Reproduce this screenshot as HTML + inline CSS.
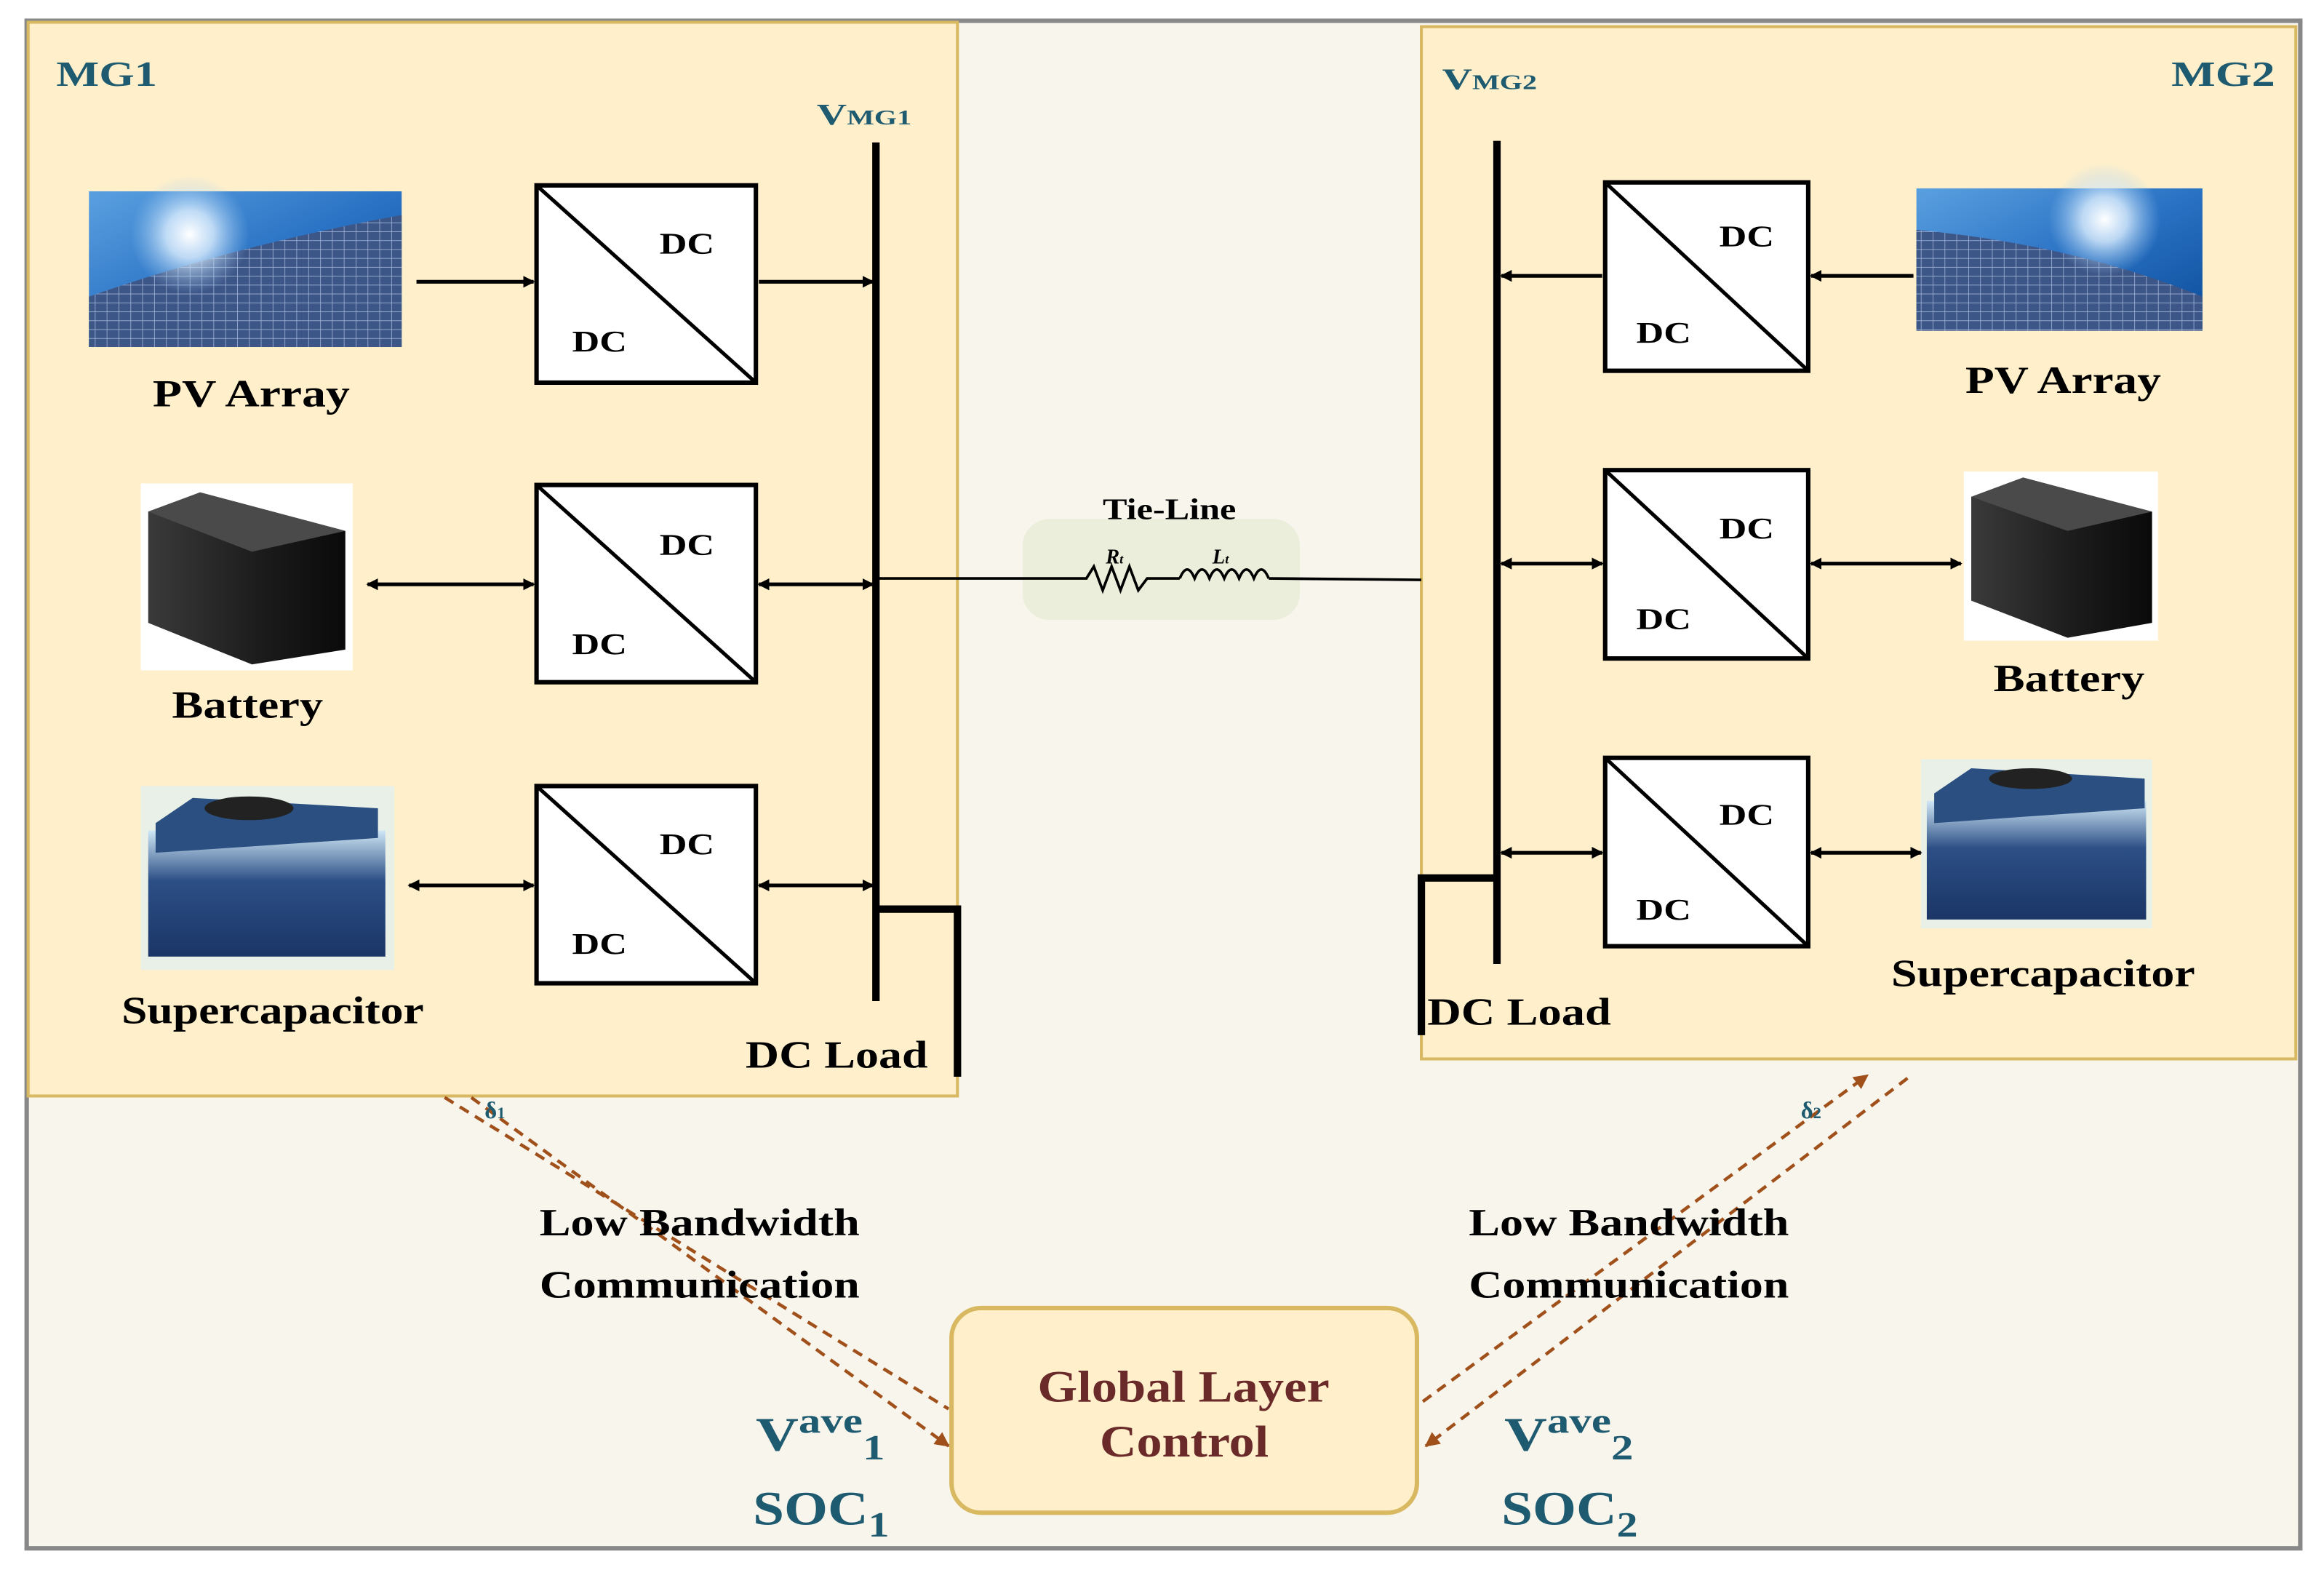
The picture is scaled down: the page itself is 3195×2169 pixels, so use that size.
<!DOCTYPE html>
<html><head><meta charset="utf-8"><style>
html,body{margin:0;padding:0;background:#fff}
svg{display:block}
text{font-family:"Liberation Serif",serif;font-weight:bold}
</style></head><body>
<svg width="3195" height="2169" viewBox="0 0 1568 1064" preserveAspectRatio="none" xmlns="http://www.w3.org/2000/svg">
<defs>
<linearGradient id="sky" x1="0" y1="0" x2="1" y2="1"><stop offset="0" stop-color="#5aa0e0"/><stop offset="0.5" stop-color="#2a72c4"/><stop offset="1" stop-color="#0b4c9a"/></linearGradient>
<radialGradient id="sun" cx="0.5" cy="0.5" r="0.5"><stop offset="0" stop-color="#fff"/><stop offset="0.4" stop-color="#dff0ff" stop-opacity="0.8"/><stop offset="1" stop-color="#9cc8f0" stop-opacity="0"/></radialGradient>
<pattern id="grid" width="8" height="6" patternUnits="userSpaceOnUse"><rect width="8" height="6" fill="#3d5688"/><path d="M0 0H8M0 0V6" stroke="#9fb3d6" stroke-width="0.8"/></pattern>
<linearGradient id="batt" x1="0" y1="0" x2="1" y2="0"><stop offset="0" stop-color="#3a3a3a"/><stop offset="0.6" stop-color="#1a1a1a"/><stop offset="1" stop-color="#0a0a0a"/></linearGradient>
<linearGradient id="cap" x1="0" y1="0" x2="0" y2="1"><stop offset="0" stop-color="#cfe6f5"/><stop offset="0.4" stop-color="#2c4f86"/><stop offset="1" stop-color="#1b3566"/></linearGradient>
<marker id="ah" markerWidth="8" markerHeight="8" refX="7" refY="4" orient="auto" markerUnits="userSpaceOnUse"><path d="M0 0L8 4L0 8Z" fill="#000"/></marker>
<marker id="ahs" markerWidth="8" markerHeight="8" refX="1" refY="4" orient="auto" markerUnits="userSpaceOnUse"><path d="M8 0L0 4L8 8Z" fill="#000"/></marker>
<marker id="ob" markerWidth="10" markerHeight="10" refX="9" refY="5" orient="auto" markerUnits="userSpaceOnUse"><path d="M0 0L10 5L0 10Z" fill="#a0501a"/></marker>
</defs>
<rect width="1568" height="1064" fill="#fff"/>
<rect x="18" y="14" width="1534" height="1030" fill="#f8f5ec" stroke="#888" stroke-width="3"/>
<!-- MG1 -->
<rect x="19" y="15" width="627" height="724" fill="#fff0cb" stroke="#d8b860" stroke-width="2"/>
<text x="38" y="58" font-size="24" fill="#1e5a70" textLength="68" lengthAdjust="spacingAndGlyphs">MG1</text>
<text x="551" y="84" font-size="20" fill="#1e5a70" textLength="64" lengthAdjust="spacingAndGlyphs">V<tspan font-size="14">MG1</tspan></text>
<line x1="591" y1="96" x2="591" y2="675" stroke="#000" stroke-width="5"/>
<polyline points="591,613 646,613 646,726" fill="none" stroke="#000" stroke-width="5"/>
<text x="503" y="720" font-size="26" fill="#000" textLength="123" lengthAdjust="spacingAndGlyphs">DC Load</text>
<!-- MG1 PV -->
<rect x="60" y="129" width="211" height="105" fill="url(#sky)"/>
<path d="M60 234 L60 200 Q160 165 271 145 L271 234Z" fill="url(#grid)"/>
<circle cx="128" cy="158" r="40" fill="url(#sun)"/>
<text x="103" y="274" font-size="26" textLength="133" lengthAdjust="spacingAndGlyphs">PV Array</text>
<!-- MG1 battery -->
<rect x="95" y="326" width="143" height="126" fill="#fff"/>
<path d="M100 345 L135 332 L233 358 L233 438 L170 448 L100 420Z" fill="url(#batt)"/>
<path d="M100 345 L135 332 L233 358 L170 372Z" fill="#4a4a4a"/>
<text x="116" y="484" font-size="26" textLength="102" lengthAdjust="spacingAndGlyphs">Battery</text>
<!-- MG1 supercap -->
<rect x="95" y="530" width="171" height="124" fill="#e8f0e8"/>
<rect x="100" y="560" width="160" height="85" fill="url(#cap)"/>
<path d="M105 555 L130 538 L255 545 L255 565 L105 575Z" fill="#2a4f80"/>
<ellipse cx="168" cy="545" rx="30" ry="8" fill="#222"/>
<text x="82" y="690" font-size="26" textLength="204" lengthAdjust="spacingAndGlyphs">Supercapacitor</text>
<!-- MG1 converters -->
<g stroke="#000" fill="#fff">
<rect x="362" y="125" width="148" height="133" stroke-width="3"/><line x1="362" y1="125" x2="510" y2="258" stroke-width="2.5"/>
<rect x="362" y="327" width="148" height="133" stroke-width="3"/><line x1="362" y1="327" x2="510" y2="460" stroke-width="2.5"/>
<rect x="362" y="530" width="148" height="133" stroke-width="3"/><line x1="362" y1="530" x2="510" y2="663" stroke-width="2.5"/>
</g>
<g font-size="20" fill="#000">
<text x="445" y="171" textLength="37" lengthAdjust="spacingAndGlyphs">DC</text><text x="386" y="237" textLength="37" lengthAdjust="spacingAndGlyphs">DC</text>
<text x="445" y="374" textLength="37" lengthAdjust="spacingAndGlyphs">DC</text><text x="386" y="441" textLength="37" lengthAdjust="spacingAndGlyphs">DC</text>
<text x="445" y="576" textLength="37" lengthAdjust="spacingAndGlyphs">DC</text><text x="386" y="643" textLength="37" lengthAdjust="spacingAndGlyphs">DC</text>
</g>
<g stroke="#000" stroke-width="2.5" fill="none">
<line x1="281" y1="190" x2="360" y2="190" marker-end="url(#ah)"/>
<line x1="512" y1="190" x2="589" y2="190" marker-end="url(#ah)"/>
<line x1="248" y1="394" x2="360" y2="394" marker-start="url(#ahs)" marker-end="url(#ah)"/>
<line x1="512" y1="394" x2="589" y2="394" marker-start="url(#ahs)" marker-end="url(#ah)"/>
<line x1="276" y1="597" x2="360" y2="597" marker-start="url(#ahs)" marker-end="url(#ah)"/>
<line x1="512" y1="597" x2="589" y2="597" marker-start="url(#ahs)" marker-end="url(#ah)"/>
</g>
<!-- MG2 -->
<rect x="959" y="18" width="590" height="696" fill="#fff0cb" stroke="#d8b860" stroke-width="2"/>
<text x="1465" y="58" font-size="24" fill="#1e5a70" textLength="70" lengthAdjust="spacingAndGlyphs">MG2</text>
<text x="973" y="60" font-size="20" fill="#1e5a70" textLength="64" lengthAdjust="spacingAndGlyphs">V<tspan font-size="14">MG2</tspan></text>
<line x1="1010" y1="95" x2="1010" y2="650" stroke="#000" stroke-width="5"/>
<polyline points="1010,592 959,592 959,698" fill="none" stroke="#000" stroke-width="5"/>
<text x="963" y="691" font-size="26" fill="#000" textLength="124" lengthAdjust="spacingAndGlyphs">DC Load</text>
<rect x="1293" y="127" width="193" height="96" fill="url(#sky)"/>
<path d="M1293 223 L1293 155 Q1400 165 1486 200 L1486 223Z" fill="url(#grid)"/>
<circle cx="1420" cy="148" r="38" fill="url(#sun)"/>
<text x="1326" y="265" font-size="26" textLength="132" lengthAdjust="spacingAndGlyphs">PV Array</text>
<rect x="1325" y="318" width="131" height="114" fill="#fff"/>
<path d="M1330 335 L1365 322 L1452 345 L1452 420 L1395 430 L1330 405Z" fill="url(#batt)"/>
<path d="M1330 335 L1365 322 L1452 345 L1395 358Z" fill="#4a4a4a"/>
<text x="1345" y="466" font-size="26" textLength="102" lengthAdjust="spacingAndGlyphs">Battery</text>
<rect x="1296" y="512" width="156" height="114" fill="#e8f0e8"/>
<rect x="1300" y="540" width="148" height="80" fill="url(#cap)"/>
<path d="M1305 535 L1330 518 L1447 525 L1447 545 L1305 555Z" fill="#2a4f80"/>
<ellipse cx="1370" cy="525" rx="28" ry="7" fill="#222"/>
<text x="1276" y="665" font-size="26" textLength="205" lengthAdjust="spacingAndGlyphs">Supercapacitor</text>
<g stroke="#000" fill="#fff">
<rect x="1083" y="123" width="137" height="127" stroke-width="3"/><line x1="1083" y1="123" x2="1220" y2="250" stroke-width="2.5"/>
<rect x="1083" y="317" width="137" height="127" stroke-width="3"/><line x1="1083" y1="317" x2="1220" y2="444" stroke-width="2.5"/>
<rect x="1083" y="511" width="137" height="127" stroke-width="3"/><line x1="1083" y1="511" x2="1220" y2="638" stroke-width="2.5"/>
</g>
<g font-size="20" fill="#000">
<text x="1160" y="166" textLength="37" lengthAdjust="spacingAndGlyphs">DC</text><text x="1104" y="231" textLength="37" lengthAdjust="spacingAndGlyphs">DC</text>
<text x="1160" y="363" textLength="37" lengthAdjust="spacingAndGlyphs">DC</text><text x="1104" y="424" textLength="37" lengthAdjust="spacingAndGlyphs">DC</text>
<text x="1160" y="556" textLength="37" lengthAdjust="spacingAndGlyphs">DC</text><text x="1104" y="620" textLength="37" lengthAdjust="spacingAndGlyphs">DC</text>
</g>
<g stroke="#000" stroke-width="2.5" fill="none">
<line x1="1081" y1="186" x2="1013" y2="186" marker-end="url(#ah)"/>
<line x1="1291" y1="186" x2="1222" y2="186" marker-end="url(#ah)"/>
<line x1="1013" y1="380" x2="1081" y2="380" marker-start="url(#ahs)" marker-end="url(#ah)"/>
<line x1="1222" y1="380" x2="1323" y2="380" marker-start="url(#ahs)" marker-end="url(#ah)"/>
<line x1="1013" y1="575" x2="1081" y2="575" marker-start="url(#ahs)" marker-end="url(#ah)"/>
<line x1="1222" y1="575" x2="1296" y2="575" marker-start="url(#ahs)" marker-end="url(#ah)"/>
</g>
<!-- Tie line -->
<rect x="690" y="350" width="187" height="68" rx="18" fill="#e6ecd6" opacity="0.8"/>
<text x="744" y="350" font-size="20" textLength="90" lengthAdjust="spacingAndGlyphs">Tie-Line</text>
<polyline points="593,390 715,390 733,390 738,382 744,398 750,382 756,398 762,382 768,398 774,390 796,390" fill="none" stroke="#000" stroke-width="1.8"/>
<path d="M796 390 q5 -12 10 0 q5 -12 10 0 q5 -12 10 0 q5 -12 10 0 q5 -12 10 0 q5 -12 10 0" fill="none" stroke="#000" stroke-width="1.8"/>
<line x1="856" y1="390" x2="959" y2="391" stroke="#000" stroke-width="1.8"/>
<text x="746" y="380" font-size="14" font-style="italic">R<tspan font-size="9">t</tspan></text>
<text x="818" y="380" font-size="14" font-style="italic">L<tspan font-size="9">t</tspan></text>
<!-- communication -->
<g stroke="#a0501a" stroke-width="2.2" stroke-dasharray="7,5" fill="none">
<line x1="300" y1="740" x2="640" y2="950"/>
<line x1="318" y1="740" x2="640" y2="975" marker-end="url(#ob)"/>
<line x1="960" y1="945" x2="1260" y2="725" marker-end="url(#ob)"/>
<line x1="1287" y1="727" x2="962" y2="975" marker-end="url(#ob)"/>
</g>
<text x="327" y="754" font-size="16" fill="#1e5a70">δ<tspan font-size="11">1</tspan></text>
<text x="1215" y="754" font-size="16" fill="#1e5a70">δ<tspan font-size="11">2</tspan></text>
<g font-size="26" fill="#000">
<text x="364" y="833" textLength="216" lengthAdjust="spacingAndGlyphs">Low Bandwidth</text><text x="364" y="875" textLength="216" lengthAdjust="spacingAndGlyphs">Communication</text>
<text x="991" y="833" textLength="216" lengthAdjust="spacingAndGlyphs">Low Bandwidth</text><text x="991" y="875" textLength="216" lengthAdjust="spacingAndGlyphs">Communication</text>
</g>
<rect x="642" y="882" width="314" height="138" rx="20" fill="#fff0cb" stroke="#d8b860" stroke-width="3"/>
<text x="700" y="945" font-size="30" fill="#6a2a2a" textLength="197" lengthAdjust="spacingAndGlyphs">Global Layer</text>
<text x="742" y="982" font-size="30" fill="#6a2a2a" textLength="114" lengthAdjust="spacingAndGlyphs">Control</text>
<g fill="#1e5a70">
<text x="510" y="978" font-size="32" textLength="87" lengthAdjust="spacingAndGlyphs">V<tspan font-size="24" dy="-12">ave</tspan><tspan font-size="24" dy="18">1</tspan></text>
<text x="508" y="1028" font-size="32" textLength="92" lengthAdjust="spacingAndGlyphs">SOC<tspan font-size="24" dy="8">1</tspan></text>
<text x="1015" y="978" font-size="32" textLength="87" lengthAdjust="spacingAndGlyphs">V<tspan font-size="24" dy="-12">ave</tspan><tspan font-size="24" dy="18">2</tspan></text>
<text x="1013" y="1028" font-size="32" textLength="92" lengthAdjust="spacingAndGlyphs">SOC<tspan font-size="24" dy="8">2</tspan></text>
</g>
</svg>
</body></html>
